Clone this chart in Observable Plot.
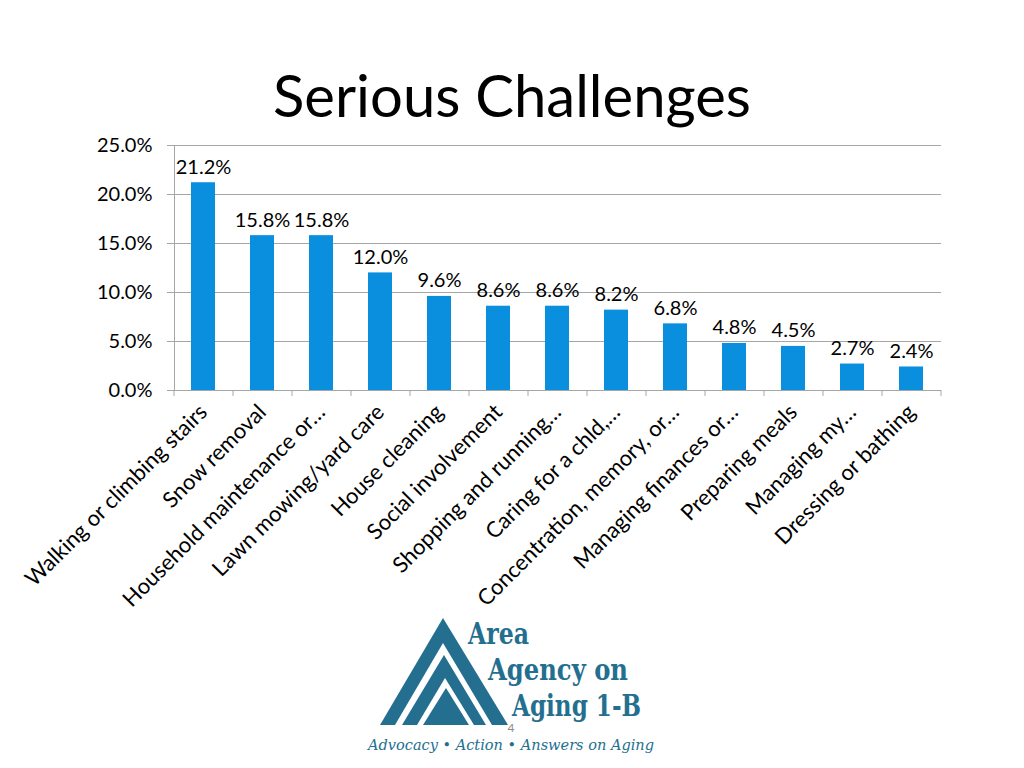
<!DOCTYPE html>
<html>
<head>
<meta charset="utf-8">
<script src="https://cdn.jsdelivr.net/npm/d3@7"></script>
<script src="https://cdn.jsdelivr.net/npm/@observablehq/plot@0.6"></script>
<style>
  html, body { margin: 0; padding: 0; background: #fff; }
  #page { position: relative; width: 1024px; height: 768px; overflow: hidden; background: #fff; font-family: Lato, "Open Sans", sans-serif; }
  #title { position: absolute; left: 0; width: 1024px; top: 66px; text-align: center; font-size: 58px; line-height: 1; color: #000; font-family: Lato, sans-serif; }
  #chart { position: absolute; left: 0; top: 0; }
  #logo { position: absolute; left: 0; top: 0; }
</style>
</head>
<body>
<div id="page">
  <div id="title">Serious Challenges</div>
  <div id="chart"></div>
  <svg id="logo" width="1024" height="768" viewBox="0 0 1024 768">
    <g fill="#246f8f">
      <polygon points="443,618 380,725 508,725"/>
      <polygon points="443,643 395,725 492,725" fill="#fff"/>
      <polygon points="444,655 402,725 486,725"/>
      <polygon points="445,678 417,725 474,725" fill="#fff"/>
      <polygon points="446,688 423,725 469,725"/>
      <text x="468" y="644" font-family="'DejaVu Serif', 'Liberation Serif', serif" font-weight="bold" font-size="29" textLength="61" lengthAdjust="spacingAndGlyphs">Area</text>
      <text x="488" y="680" font-family="'DejaVu Serif', 'Liberation Serif', serif" font-weight="bold" font-size="29" textLength="140" lengthAdjust="spacingAndGlyphs">Agency on</text>
      <text x="512" y="716" font-family="'DejaVu Serif', 'Liberation Serif', serif" font-weight="bold" font-size="29" textLength="129" lengthAdjust="spacingAndGlyphs">Aging 1-B</text>
      <text x="368" y="750" font-family="'DejaVu Serif', 'Liberation Serif', serif" font-style="italic" font-size="14" textLength="286" lengthAdjust="spacingAndGlyphs">Advocacy • Action • Answers on Aging</text>
    </g>
    <text x="511" y="732" text-anchor="middle" font-family="Lato, sans-serif" font-size="12" fill="#8c8c8c">4</text>
  </svg>
</div>
<script>
const categories = [
  "Walking or climbing stairs",
  "Snow removal",
  "Household maintenance or…",
  "Lawn mowing/yard care",
  "House cleaning",
  "Social involvement",
  "Shopping and running…",
  "Caring for a chld,…",
  "Concentration, memory, or…",
  "Managing finances or…",
  "Preparing meals",
  "Managing my…",
  "Dressing or bathing"
];
const values = [21.2, 15.8, 15.8, 12.0, 9.6, 8.6, 8.6, 8.2, 6.8, 4.8, 4.5, 2.7, 2.4];
const yTicks = [0, 5, 10, 15, 20, 25];

const data = categories.map((c, i) => ({category: c, value: values[i]}));
const pct = v => v.toFixed(1) + "%";

const W = 1024, H = 640;
const mL = 174, mR = 83, mT = 145, mB = 250;
const step = (W - mL - mR) / categories.length;
const gridColor = "#a6a6a6";
const barColor = "#0a8fdf";

const chart = Plot.plot({
  width: W,
  height: H,
  marginLeft: mL,
  marginRight: mR,
  marginTop: mT,
  marginBottom: mB,
  style: {fontFamily: "Lato, 'Open Sans', sans-serif", color: "#000", background: "transparent", overflow: "visible"},
  x: {type: "band", domain: categories, paddingInner: 0.59, paddingOuter: 0.295},
  y: {domain: [0, 25]},
  marks: [
    Plot.ruleY(yTicks, {y: d => d, stroke: gridColor, strokeWidth: 1, insetLeft: -7}),
    Plot.frame({anchor: "left", stroke: gridColor}),
    Plot.ruleX(categories, {x: d => d, y1: 0, y2: -0.6, dx: -step / 2, stroke: gridColor}),
    Plot.ruleX([categories[categories.length - 1]], {x: d => d, y1: 0, y2: -0.6, dx: step / 2, stroke: gridColor}),
    Plot.barY(data, {x: "category", y: "value", fill: barColor}),
    Plot.text(data, {x: "category", y: "value", text: d => pct(d.value), dy: -9, lineAnchor: "bottom", fontSize: 20, fill: "#000"}),
    Plot.axisY({ticks: yTicks, tickFormat: pct, tickSize: 0, tickPadding: 22, fontSize: 20, label: null}),
    Plot.axisX({tickSize: 0, tickRotate: -45, tickPadding: 18, fontSize: 22, label: null})
  ]
});
document.getElementById("chart").appendChild(chart);
</script>
</body>
</html>
